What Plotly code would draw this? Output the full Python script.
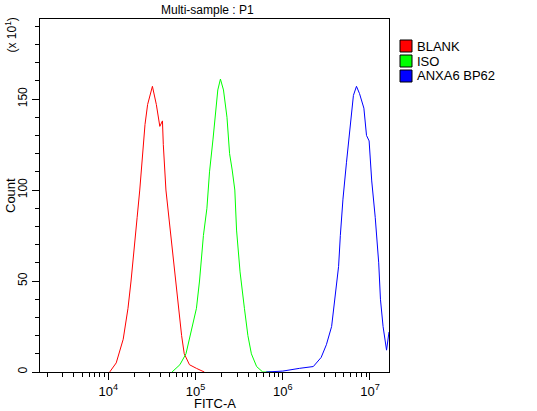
import plotly.graph_objects as go

blank_logx = [4.015, 4.09, 4.17, 4.225, 4.26, 4.30, 4.33, 4.36, 4.39, 4.42, 4.45, 4.505, 4.55, 4.59, 4.62, 4.63,
              4.66, 4.70, 4.73, 4.76, 4.80, 4.84, 4.87, 4.93, 5.01, 5.10]
blank_cnt = [0, 5, 18, 35, 50, 72, 85, 100, 120, 136, 147, 157, 147, 135, 138, 125,
             100, 82, 70, 55, 35, 20, 10, 4, 2, 0]

iso_logx = [4.73, 4.82, 4.89, 4.95, 5.01, 5.045, 5.09, 5.13, 5.16, 5.20, 5.255, 5.285, 5.32, 5.36, 5.39, 5.42,
            5.45, 5.47, 5.51, 5.56, 5.60, 5.64, 5.70, 5.77, 5.87]
iso_cnt = [0, 4, 10, 22, 35, 50, 75, 90, 110, 128, 155, 161, 155, 140, 120, 111,
           100, 78, 55, 35, 20, 10, 3, 0, 0]

anx_logx = [5.81, 6.0, 6.19, 6.35, 6.44, 6.50, 6.56, 6.60, 6.64, 6.66, 6.69, 6.73, 6.77, 6.81, 6.845, 6.88,
            6.93, 6.96, 6.99, 7.02, 7.06, 7.10, 7.12, 7.15, 7.19, 7.21, 7.218]
anx_cnt = [0, 0.5, 2, 3, 8, 15, 25, 40, 58, 75, 95, 115, 135, 152, 157, 153,
           145, 130, 127, 105, 85, 60, 40, 25, 12, 20, 22]

series = [("BLANK", blank_logx, blank_cnt, "#ff0000"),
          ("ISO", iso_logx, iso_cnt, "#00ff00"),
          ("ANXA6 BP62", anx_logx, anx_cnt, "#0000ff")]

W, H = 537, 411
L, R, T, B = 40, 148, 19, 39
pw, ph = W - L - R, H - T - B


def px(x):  # window pixel -> paper x
    return (x - L) / pw


def py(y):  # window pixel -> paper y
    return 1 - (y - T) / ph


fig = go.Figure()
for i, (name, lx, cnt, col) in enumerate(series):
    fig.add_trace(go.Scatter(x=[10 ** v for v in lx], y=cnt, mode="lines", name=name,
                             line=dict(color=col, width=1), showlegend=False))
    top = 40 + 15 * i
    fig.add_shape(type="rect", xref="paper", yref="paper", x0=px(400), x1=px(412), y0=py(top + 12), y1=py(top),
                  fillcolor=col, line=dict(color="black", width=1))
    fig.add_annotation(text=name, xref="paper", yref="paper", x=px(415), y=py(top + 6),
                       xanchor="left", yanchor="middle", showarrow=False, font=dict(size=13))

fig.update_layout(
    width=W, height=H,
    margin=dict(l=L, r=R, t=T, b=B),
    paper_bgcolor="white", plot_bgcolor="white",
    font=dict(family="Liberation Sans, Arial", size=12, color="black"),
    showlegend=False,
)
fig.add_annotation(text="Multi-sample : P1", xref="paper", yref="paper", x=px(207), y=py(10),
                   xanchor="center", yanchor="middle", showarrow=False)
fig.add_annotation(text="FITC-A", xref="paper", yref="paper", x=px(215), y=py(403),
                   xanchor="center", yanchor="middle", showarrow=False, font=dict(size=13))
fig.add_annotation(text="Count", xref="paper", yref="paper", x=px(10), y=py(196),
                   xanchor="center", yanchor="middle", textangle=-90, showarrow=False, font=dict(size=13))
fig.add_annotation(text="(x 10<sup>1</sup>)", xref="paper", yref="paper", x=px(11), y=py(16),
                   xanchor="center", yanchor="top", textangle=-90, showarrow=False)
fig.update_xaxes(type="log", range=[3.216, 7.218], showgrid=False, zeroline=False, automargin=False,
                 showline=True, linecolor="black", mirror=True,
                 ticks="outside", ticklen=7, tickcolor="black",
                 tickvals=[1e4, 1e5, 1e6, 1e7],
                 ticktext=["10<sup>4</sup>", "10<sup>5</sup>", "10<sup>6</sup>", "10<sup>7</sup>"],
                 tickfont=dict(size=13),
                 minor=dict(ticks="outside", ticklen=4, dtick="D1", tickcolor="black", showgrid=False))
fig.update_yaxes(range=[0, 194], showgrid=False, zeroline=False, automargin=False,
                 showline=True, linecolor="black", mirror=True,
                 ticks="outside", ticklen=7, tickcolor="black",
                 tickvals=[0, 50, 100, 150], tickangle=-90,
                 minor=dict(ticks="outside", ticklen=4, dtick=10, tickcolor="black", showgrid=False))
fig.write_html("out.html", config={"displayModeBar": False},
               post_script="document.body.style.margin='0';")
